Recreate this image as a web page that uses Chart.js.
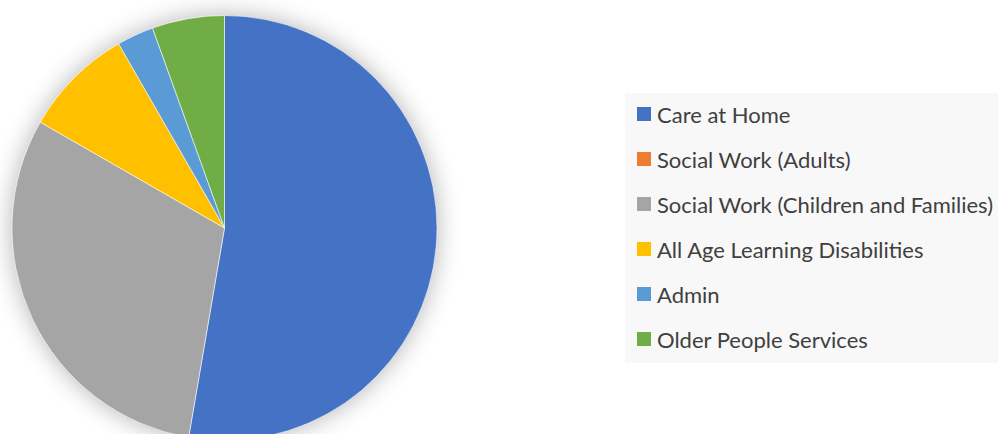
<!DOCTYPE html>
<html>
<head>
<meta charset="utf-8">
<script src="https://cdn.jsdelivr.net/npm/chart.js@4"></script>
<style>
  html, body { margin: 0; padding: 0; background: #fff; overflow: hidden; width: 998px; height: 434px; }
  #wrap { position: absolute; left: 0; top: 0; width: 490px; height: 456px; }
  #legend { position: absolute; left: 625px; top: 93px; width: 400px; height: 270px; background: #f8f8f8; }
  .lg-item { position: absolute; left: 12px; height: 24px; display: flex; align-items: center; white-space: nowrap;
             font-family: Lato, "Open Sans", sans-serif; font-size: 22px; color: #404040; }
  .lg-sw { width: 14px; height: 14px; margin-right: 6px; flex: none; }
</style>
</head>
<body>
<div id="wrap"><canvas id="pie"></canvas></div>
<div id="legend"></div>
<script>
(function () {
  'use strict';

  var services = ['Care at Home', 'Social Work (Adults)', 'Social Work (Children and Families)',
                  'All Age Learning Disabilities', 'Admin', 'Older People Services'];
  var shares   = [52.7, 0, 30.6, 8.4, 2.8, 5.5];
  var colours  = ['#4472C4', '#ED7D31', '#A5A5A5', '#FFC000', '#5B9BD5', '#70AD47'];

  /* soft halo under the pie */
  var halo = {
    id: 'halo',
    beforeDatasetsDraw: function (chart) {
      var arc = chart.getDatasetMeta(0).data[0];
      if (!arc) return;
      var ctx = chart.ctx;
      ctx.save();
      ctx.shadowColor = 'rgba(0,0,0,0.3)';
      ctx.shadowBlur = 24;
      ctx.fillStyle = '#fff';
      ctx.beginPath();
      ctx.arc(arc.x, arc.y, arc.outerRadius, 0, Math.PI * 2);
      ctx.fill();
      ctx.restore();
    }
  };

  new Chart(document.getElementById('pie'), {
    type: 'pie',
    data: {
      labels: services,
      datasets: [{ data: shares, backgroundColor: colours, borderColor: 'rgba(255,255,255,0.55)', borderWidth: 1 }]
    },
    options: {
      responsive: true, maintainAspectRatio: false, animation: false,
      layout: { padding: { left: 11.5, right: 52.5, top: 15, bottom: 15 } },
      plugins: { legend: { display: false }, tooltip: { enabled: false } }
    },
    plugins: [halo]
  });

  /* legend rows */
  var lg = document.getElementById('legend');
  services.forEach(function (name, i) {
    var row = document.createElement('div');
    row.className = 'lg-item';
    row.style.top = (9 + i * 45) + 'px';
    var sw = document.createElement('span');
    sw.className = 'lg-sw';
    sw.style.background = colours[i];
    var tx = document.createElement('span');
    tx.textContent = name;
    row.appendChild(sw); row.appendChild(tx);
    lg.appendChild(row);
  });
})();
</script>
</body>
</html>
